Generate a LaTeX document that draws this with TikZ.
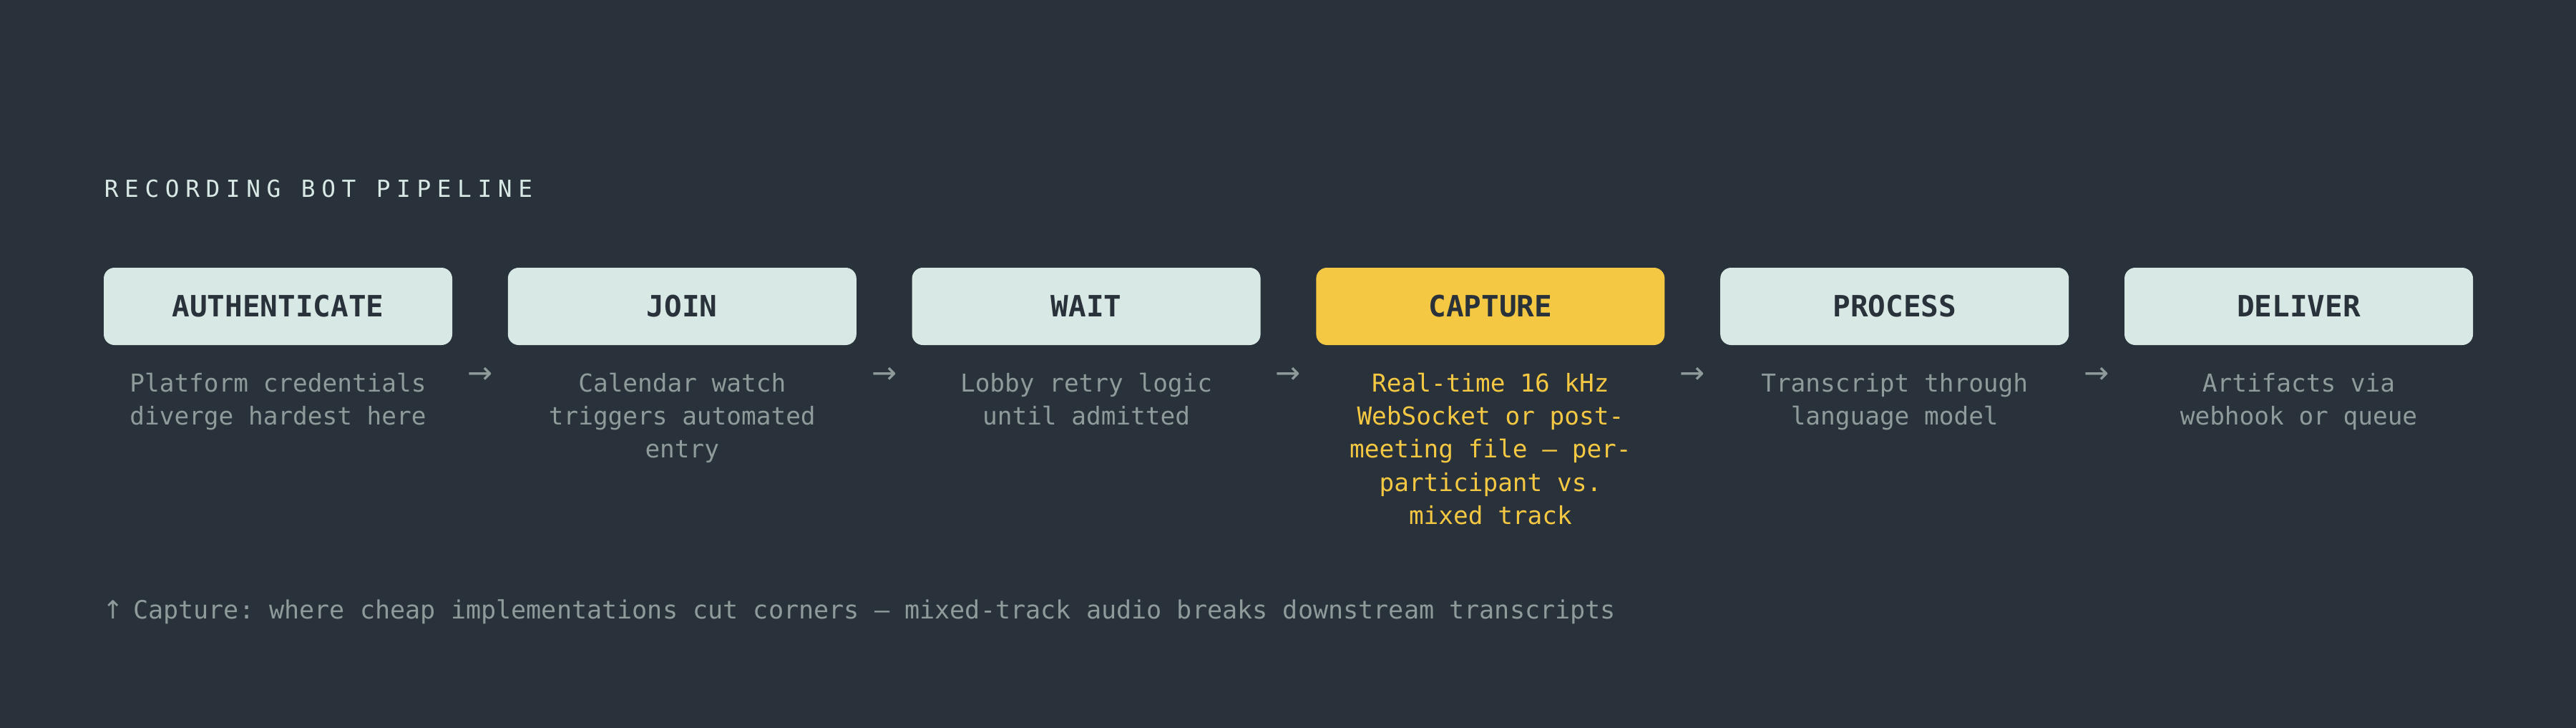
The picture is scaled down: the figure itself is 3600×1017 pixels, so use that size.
\documentclass[tikz,border=0pt]{standalone}
\usepackage{fontspec}
\setmonofont{DejaVu Sans Mono}
\newfontfamily\titlefont[LetterSpace=26.3]{DejaVu Sans Mono}
\newfontfamily\arrowfont{DejaVu Sans}
\usetikzlibrary{calc}
\definecolor{bg}{HTML}{29313A}
\definecolor{boxfill}{HTML}{D8E9E5}
\definecolor{boxtext}{HTML}{29313A}
\definecolor{hl}{HTML}{F4C842}
\definecolor{greytext}{HTML}{8F9B9B}
\definecolor{titletext}{HTML}{D8E9E5}
\tikzset{
  stagebox/.style={rounded corners=3.75pt, fill=boxfill, text=boxtext,
    minimum width=121.75pt, minimum height=27pt, inner sep=0pt,
    font=\ttfamily\bfseries\fontsize{10.25pt}{12pt}\selectfont},
  hlbox/.style={stagebox, fill=hl},
  desc/.style={anchor=base, inner sep=0pt, text=greytext,
    font=\ttfamily\fontsize{8.6pt}{11.6pt}\selectfont},
  hldesc/.style={desc, text=hl},
  flowarrow/.style={anchor=center, inner sep=0pt, text=greytext,
    font=\arrowfont\fontsize{10.5pt}{12pt}\selectfont},
}
\newcommand{\desclines}[1]{\begin{tabular}[t]{@{}c@{}}#1\end{tabular}}
\begin{document}
\begin{tikzpicture}[x=0.25pt,y=-0.25pt]
\fill[bg] (0,0) rectangle (3600,1017);
\useasboundingbox (0,0) rectangle (3600,1017);
\node[anchor=base west, inner sep=0pt, text=titletext, font=\titlefont\fontsize{8.2pt}{9pt}\selectfont] (title) at (145,275) {RECORDING BOT PIPELINE};
\node[stagebox] (b1) at (388.5,428) {AUTHENTICATE};
\node[stagebox] (b2) at (953.3,428) {JOIN};
\node[stagebox] (b3) at (1518.1,428) {WAIT};
\node[hlbox]    (b4) at (2082.9,428) {CAPTURE};
\node[stagebox] (b5) at (2647.7,428) {PROCESS};
\node[stagebox] (b6) at (3212.5,428) {DELIVER};
\node[desc] (d1) at (388.5,547) {\desclines{Platform credentials\\diverge hardest here}};
\node[desc] (d2) at (953.3,547) {\desclines{Calendar watch\\triggers automated\\entry}};
\node[desc] (d3) at (1518.1,547) {\desclines{Lobby retry logic\\until admitted}};
\node[hldesc] (d4) at (2082.9,547) {\desclines{Real-time 16 kHz\\WebSocket or post-\\meeting file — per-\\participant vs.\\mixed track}};
\node[desc] (d5) at (2647.7,547) {\desclines{Transcript through\\language model}};
\node[desc] (d6) at (3212.5,547) {\desclines{Artifacts via\\webhook or queue}};
\foreach \a/\b/\n in {b1/b2/a1,b2/b3/a2,b3/b4/a3,b4/b5/a4,b5/b6/a5}{
  \path ($(\a.east)!0.5!(\b.west)$) coordinate (c\n);
  \node[flowarrow] (\n) at ($(c\n)+(0,96)$) {→};
}
\node[anchor=base west, inner sep=0pt, text=greytext, font=\ttfamily\fontsize{8.78pt}{11pt}\selectfont] (foot) at (143,864) {\makebox[10.58pt][l]{\arrowfont ↑}Capture: where cheap implementations cut corners — mixed-track audio breaks downstream transcripts};
\end{tikzpicture}
\end{document}
